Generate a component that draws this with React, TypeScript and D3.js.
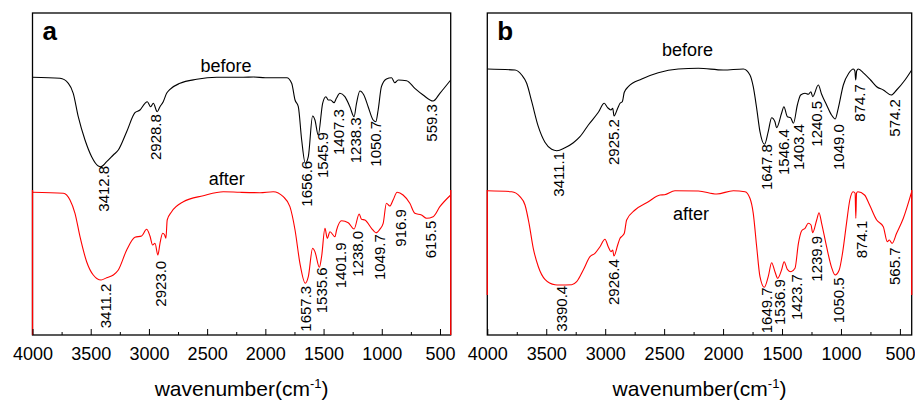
import React, { useEffect, useRef } from 'react';
import * as d3 from 'd3';

// wavenumber (cm-1), transmittance (a.u.)
const beforeA: [number, number][] = [
    [4000, 257.7], [3764, 256.7], [3692, 251.7], [3650, 241.7], [3607, 218.3], [3549, 195],
    [3492, 178.3], [3435, 169], [3413, 168.3], [3363, 173.3], [3306, 180], [3263, 185],
    [3191, 203.3], [3120, 222.3], [3077, 225], [3034, 231.7], [3014, 233.3], [2985, 228.3],
    [2962, 231.7], [2929, 223.3], [2905, 228.3], [2877, 233.3], [2848, 241.7], [2819, 245.7],
    [2733, 251.7], [2590, 255.7], [2418, 257.7], [2190, 257.7], [2100, 258], [2000, 257.3],
    [1816, 257.3], [1774, 251.7], [1745, 235], [1717, 228.3], [1688, 195], [1657, 171.7],
    [1631, 178.3], [1594, 219], [1574, 215], [1546, 200], [1508, 231.7], [1480, 238.3],
    [1460, 235], [1440, 235], [1410, 232.3], [1390, 236.7], [1360, 241.7], [1317, 238.3],
    [1274, 228.3], [1238, 218.3], [1217, 231.7], [1188, 244], [1154, 240], [1117, 228.3],
    [1074, 215], [1051, 213.3], [1031, 225], [1003, 248.3], [960, 256], [916, 257.3],
    [888, 252.3], [859, 255], [787, 254.3], [716, 246.7], [645, 240], [559, 234],
    [501, 241.7], [408, 255],
];

const afterA: [number, number][] = [
    [4000, 142.7], [3735, 141.7], [3678, 135], [3635, 121.7], [3592, 98.3], [3535, 73.3],
    [3478, 60], [3411, 55], [3363, 57.3], [3306, 60], [3263, 65], [3191, 85], [3120, 97.7],
    [3063, 99], [3020, 105.7], [2991, 99], [2968, 90], [2948, 91.7], [2923, 80], [2905, 91.7],
    [2882, 101.7], [2865, 100], [2854, 96.7], [2843, 115], [2805, 123.3], [2705, 133.3],
    [2533, 139.3], [2361, 143.3], [2218, 142.7], [2046, 142.3], [1932, 143.3], [1846, 138.3],
    [1789, 128.3], [1745, 105], [1703, 71.7], [1657, 51.7], [1631, 58.3], [1594, 86.7],
    [1574, 83.3], [1536, 67.7], [1517, 78.3], [1488, 106.7], [1468, 96.7], [1445, 103.3],
    [1402, 98.3], [1388, 105], [1345, 114.3], [1288, 112.3], [1238, 106], [1194, 121],
    [1174, 115.7], [1145, 115], [1088, 106.7], [1050, 102.3], [1017, 105.7], [988, 111.7],
    [960, 131.7], [931, 129], [903, 135], [868, 142.7], [817, 140], [759, 131.7], [716, 121.7],
    [659, 120], [615, 116.7], [559, 118.3], [501, 128.3], [408, 140],
];

const beforeB: [number, number][] = [
    [4000, 266], [3765, 265], [3708, 260], [3666, 251.7], [3623, 233.3], [3567, 208.3],
    [3511, 192.7], [3454, 185.7], [3411, 184.3], [3341, 187.3], [3270, 192.3], [3214, 198.3],
    [3143, 210], [3058, 222.7], [3008, 231.7], [2979, 227.3], [2951, 225], [2936, 226.7],
    [2925, 219], [2894, 226.7], [2874, 231.7], [2855, 233.3], [2838, 242.7], [2804, 248.3],
    [2690, 256], [2550, 262.3], [2380, 266], [2210, 266.7], [1998, 265], [1828, 266],
    [1772, 260], [1744, 248.3], [1715, 226.7], [1687, 203.3], [1648, 190.7], [1617, 203.3],
    [1588, 217.3], [1560, 213.3], [1546, 207.3], [1504, 221.7], [1484, 228.3], [1455, 218.3],
    [1427, 217.3], [1403, 211.7], [1370, 230], [1342, 240], [1305, 241.7], [1277, 240.7],
    [1255, 243.3], [1240, 238.3], [1192, 250], [1164, 240.7], [1122, 230], [1080, 220],
    [1049, 216], [1023, 226.7], [980, 250], [934, 261.7], [895, 266], [882, 264], [875, 255],
    [867, 264], [853, 266], [805, 261.7], [749, 255], [697, 248.3], [641, 245], [574, 240],
    [528, 245], [457, 255], [400, 265],
];

const afterB: [number, number][] = [
    [4000, 144.3], [3793, 143.3], [3723, 138.3], [3680, 130], [3646, 111.7], [3610, 86.7],
    [3567, 68.3], [3511, 55.7], [3426, 50.3], [3390, 50], [3284, 50.3], [3242, 53.3],
    [3186, 65], [3129, 78.3], [3087, 81.7], [3044, 88.3], [3002, 95.7], [2974, 88.3],
    [2951, 83.3], [2936, 85], [2926, 79], [2894, 90], [2874, 96.7], [2855, 99], [2838, 101.7],
    [2818, 115], [2747, 125], [2634, 133.3], [2535, 140], [2496, 140.3], [2408, 144.3],
    [2210, 144], [2054, 141], [1913, 144.3], [1814, 143.3], [1772, 136.7], [1744, 121.7],
    [1715, 88.3], [1687, 58.3], [1650, 47.7], [1617, 58.3], [1588, 72.3], [1560, 63.3],
    [1537, 56.7], [1504, 65], [1482, 73.3], [1455, 65.7], [1424, 63.3], [1390, 66.7],
    [1361, 91.7], [1333, 104.3], [1305, 106.7], [1277, 111.7], [1254, 110], [1240, 102.3],
    [1206, 115], [1186, 122.3], [1164, 111.7], [1122, 88.3], [1080, 67.7], [1050, 60],
    [1015, 65], [987, 81.7], [953, 111.7], [925, 135], [897, 143.3], [880, 141.7], [874, 116.7],
    [868, 141.7], [857, 143.3], [800, 140], [757, 130], [697, 115], [641, 108.3], [607, 93.3],
    [590, 95], [566, 91.7], [528, 101.7], [471, 116.7], [400, 143.3],
];

// peak labels: text, anchor wavenumber, anchor level (where the rotated text starts)
const peaksBeforeA: [string, number, number][] = [
    ['3412.8', 3386, 123.3], ['2928.8', 2941, 175], ['1656.6', 1645, 128.3], ['1545.9', 1509, 157],
    ['1407.3', 1367, 180], ['1238.3', 1223, 171.7], ['1050.7', 1051, 168.3], ['559.3', 569, 193.3],
];
const peaksAfterA: [string, number, number][] = [
    ['3411.2', 3373, 6.7], ['2923.0', 2898, 28.3], ['1657.3', 1653, 3.3], ['1535.6', 1516, 21.7],
    ['1401.9', 1352, 46.7], ['1238.0', 1209, 58.3], ['1049.7', 1015, 55], ['916.9', 837, 88.3],
    ['615.5', 579, 76.7],
];
const peaksBeforeB: [string, number, number][] = [
    ['3411.1', 3398, 138.3], ['2925.2', 2931, 170], ['1647.8', 1627, 145], ['1546.4', 1485, 160],
    ['1403.4', 1362, 165], ['1240.5', 1202, 188.3], ['1049.0', 1023, 165], ['874.7', 839, 213.3],
    ['574.2', 544, 198.3],
];
const peaksAfterB: [string, number, number][] = [
    ['3390.4', 3369, 3.3], ['2926.4', 2931, 30], ['1649.7', 1627, 1.7], ['1536.9', 1517, 10],
    ['1423.7', 1376, 15], ['1239.9', 1206, 53.3], ['1050.5', 1015, 11.7], ['874.1', 824, 76.7],
    ['565.7', 548, 50],
];

const majorTicks = [4000, 3500, 3000, 2500, 2000, 1500, 1000, 500];
const minorTicks = [3750, 3250, 2750, 2250, 1750, 1250, 750];

const FONT = '"Liberation Sans", Arial, sans-serif';
const TOP = 13;
const BOTTOM = 335;

const panels = [
    {
        letter: 'a', left: 32.5, right: 450.7, xEnd: 408,
        before: beforeA, after: afterA, beforePeaks: peaksBeforeA, afterPeaks: peaksAfterA,
        beforeTag: [2338, 263.3], afterTag: [2332, 150], redSpan: [145, 0],
    },
    {
        letter: 'b', left: 487.3, right: 911.7, xEnd: 400,
        before: beforeB, after: afterB, beforePeaks: peaksBeforeB, afterPeaks: peaksAfterB,
        beforeTag: [2302, 279], afterTag: [2272, 115], redSpan: [145, 40],
    },
];

const App = () => {
    const svgRef = useRef<SVGSVGElement>(null);

    useEffect(() => {
        const svg = d3.select(svgRef.current);
        svg.selectAll('*').remove();

        panels.forEach(p => {
            const g = svg.append('g');
            const x = d3.scaleLinear().domain([4000, p.xEnd]).range([p.left, p.right]);
            const y = d3.scaleLinear().domain([0, 322]).range([BOTTOM, TOP]);

            const line = d3.line<[number, number]>()
                .x(d => x(d[0]))
                .y(d => y(d[1]))
                .curve(d3.curveMonotoneX);

            g.append('path').datum(p.before)
                .attr('d', line).attr('fill', 'none')
                .attr('stroke', '#000').attr('stroke-width', 1.1);

            g.append('path').datum(p.after)
                .attr('d', line).attr('fill', 'none')
                .attr('stroke', '#ff0000').attr('stroke-width', 1.1);

            // frame
            g.append('rect')
                .attr('x', p.left).attr('y', TOP)
                .attr('width', p.right - p.left).attr('height', BOTTOM - TOP)
                .attr('fill', 'none').attr('stroke', '#000').attr('stroke-width', 1.3);

            // the lower layer's side axes are red
            [p.left, p.right].forEach(sx => {
                g.append('line')
                    .attr('x1', sx).attr('x2', sx)
                    .attr('y1', y(p.redSpan[0])).attr('y2', y(p.redSpan[1]))
                    .attr('stroke', '#ff0000').attr('stroke-width', 1.3);
            });

            // bottom axis, ticks inward
            const xAxis = g.append('g')
                .attr('transform', `translate(0,${BOTTOM})`)
                .call(d3.axisBottom(x)
                    .tickValues(majorTicks)
                    .tickFormat(d3.format('d'))
                    .tickSizeInner(-6)
                    .tickSizeOuter(0)
                    .tickPadding(12));
            xAxis.select('.domain').remove();
            xAxis.selectAll('text')
                .style('font-family', FONT).style('font-size', '18px').style('fill', '#000');

            const minor = g.append('g')
                .attr('transform', `translate(0,${BOTTOM})`)
                .call(d3.axisBottom(x).tickValues(minorTicks).tickSizeInner(-3).tickSizeOuter(0).tickFormat(() => ''));
            minor.select('.domain').remove();

            // panel letter
            g.append('text')
                .attr('x', p.left + 10).attr('y', 40)
                .style('font-family', FONT).style('font-size', '26px').style('font-weight', 'bold')
                .text(p.letter);

            // curve tags
            const tag = (pos: number[], label: string) => {
                g.append('text')
                    .attr('x', x(pos[0])).attr('y', y(pos[1]))
                    .attr('text-anchor', 'middle')
                    .style('font-family', FONT).style('font-size', '18px')
                    .text(label);
            };
            tag(p.beforeTag, 'before');
            tag(p.afterTag, 'after');

            // peak labels
            [...p.beforePeaks, ...p.afterPeaks].forEach(([label, wn, level]) => {
                g.append('text')
                    .attr('transform', `translate(${x(wn)},${y(level)}) rotate(-90)`)
                    .attr('dy', '0.35em')
                    .style('font-family', FONT).style('font-size', '15px')
                    .text(label);
            });

            // axis title
            const title = g.append('text')
                .attr('x', (p.left + p.right) / 2).attr('y', 396)
                .attr('text-anchor', 'middle')
                .style('font-family', FONT).style('font-size', '21px');
            title.append('tspan').text('wavenumber(cm');
            title.append('tspan').attr('dy', -8).style('font-size', '13px').text('-1');
            title.append('tspan').attr('dy', 8).text(')');
        });
    }, []);

    return (
        <svg
            ref={svgRef}
            width={915}
            height={400}
            style={{ position: 'absolute', left: 0, top: 0, background: '#fff' }}
        />
    );
};

export default App;
